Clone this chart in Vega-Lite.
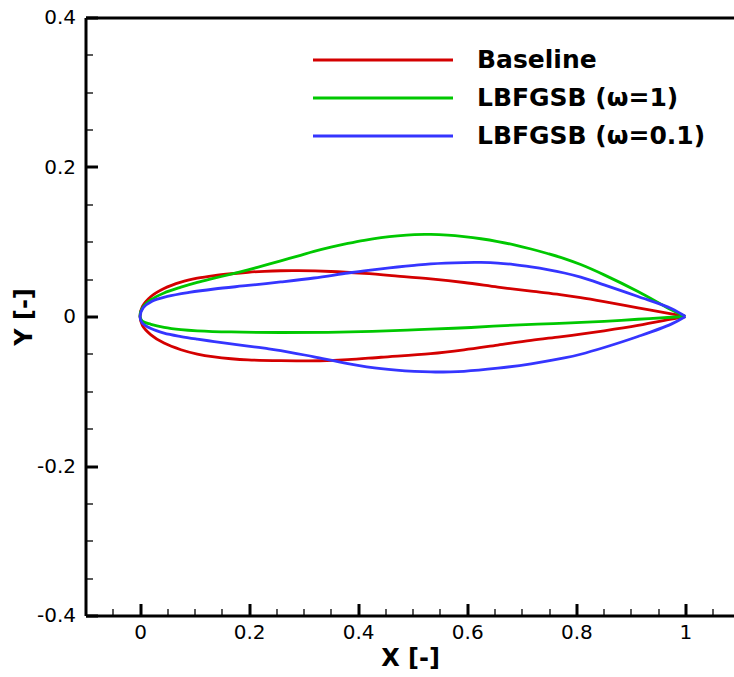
{
"$schema": "https://vega.github.io/schema/vega-lite/v6.json",
"width": 649, "height": 598,
"autosize": {"type": "none"},
"padding": {"left": 85.5, "top": 17.5, "right": 0, "bottom": 62},
"config": {"view": {"stroke": null}, "font": "DejaVu Sans",
  "axis": {"domainColor": "black", "tickColor": "black", "labelColor": "black", "titleColor": "black", "grid": false, "labelFont": "DejaVu Sans", "labelFontSize": 20, "titleFont": "DejaVu Sans", "titleFontSize": 24, "titleFontWeight": "bold", "domainWidth": 3}},
"data": {"values": [
{"s":"Baseline","i":0,"x":1,"y":0},{"s":"Baseline","i":1,"x":0.974,"y":0.0035},{"s":"Baseline","i":2,"x":0.913,"y":0.0117},{"s":"Baseline","i":3,"x":0.851,"y":0.0199},{"s":"Baseline","i":4,"x":0.808,"y":0.0252},{"s":"Baseline","i":5,"x":0.77,"y":0.0292},{"s":"Baseline","i":6,"x":0.717,"y":0.0338},{"s":"Baseline","i":7,"x":0.656,"y":0.0394},{"s":"Baseline","i":8,"x":0.594,"y":0.0455},{"s":"Baseline","i":9,"x":0.533,"y":0.0503},{"s":"Baseline","i":10,"x":0.472,"y":0.0541},{"s":"Baseline","i":11,"x":0.411,"y":0.0576},{"s":"Baseline","i":12,"x":0.35,"y":0.0602},{"s":"Baseline","i":13,"x":0.29,"y":0.0613},{"s":"Baseline","i":14,"x":0.258,"y":0.0612},{"s":"Baseline","i":15,"x":0.228,"y":0.0605},{"s":"Baseline","i":16,"x":0.198,"y":0.0592},{"s":"Baseline","i":17,"x":0.167,"y":0.0572},{"s":"Baseline","i":18,"x":0.136,"y":0.0547},{"s":"Baseline","i":19,"x":0.105,"y":0.0512},{"s":"Baseline","i":20,"x":0.075,"y":0.046},{"s":"Baseline","i":21,"x":0.044,"y":0.0375},{"s":"Baseline","i":22,"x":0.02,"y":0.0268},{"s":"Baseline","i":23,"x":0.0044,"y":0.0134},{"s":"Baseline","i":24,"x":0,"y":0},{"s":"Baseline","i":25,"x":0.0044,"y":-0.012},{"s":"Baseline","i":26,"x":0.02,"y":-0.0245},{"s":"Baseline","i":27,"x":0.044,"y":-0.0356},{"s":"Baseline","i":28,"x":0.075,"y":-0.0445},{"s":"Baseline","i":29,"x":0.105,"y":-0.0503},{"s":"Baseline","i":30,"x":0.136,"y":-0.0541},{"s":"Baseline","i":31,"x":0.167,"y":-0.0565},{"s":"Baseline","i":32,"x":0.198,"y":-0.058},{"s":"Baseline","i":33,"x":0.258,"y":-0.059},{"s":"Baseline","i":34,"x":0.33,"y":-0.0592},{"s":"Baseline","i":35,"x":0.381,"y":-0.0578},{"s":"Baseline","i":36,"x":0.442,"y":-0.0545},{"s":"Baseline","i":37,"x":0.533,"y":-0.0497},{"s":"Baseline","i":38,"x":0.594,"y":-0.0446},{"s":"Baseline","i":39,"x":0.656,"y":-0.0382},{"s":"Baseline","i":40,"x":0.717,"y":-0.0319},{"s":"Baseline","i":41,"x":0.77,"y":-0.0272},{"s":"Baseline","i":42,"x":0.808,"y":-0.0236},{"s":"Baseline","i":43,"x":0.851,"y":-0.0191},{"s":"Baseline","i":44,"x":0.913,"y":-0.0119},{"s":"Baseline","i":45,"x":0.974,"y":-0.0036},{"s":"Baseline","i":46,"x":1,"y":0},
{"s":"LBFGSB (ω=1)","i":0,"x":1,"y":0},{"s":"LBFGSB (ω=1)","i":1,"x":0.974,"y":0.009},{"s":"LBFGSB (ω=1)","i":2,"x":0.913,"y":0.0334},{"s":"LBFGSB (ω=1)","i":3,"x":0.851,"y":0.0557},{"s":"LBFGSB (ω=1)","i":4,"x":0.808,"y":0.0695},{"s":"LBFGSB (ω=1)","i":5,"x":0.778,"y":0.0775},{"s":"LBFGSB (ω=1)","i":6,"x":0.747,"y":0.0843},{"s":"LBFGSB (ω=1)","i":7,"x":0.717,"y":0.0903},{"s":"LBFGSB (ω=1)","i":8,"x":0.686,"y":0.0958},{"s":"LBFGSB (ω=1)","i":9,"x":0.656,"y":0.1003},{"s":"LBFGSB (ω=1)","i":10,"x":0.625,"y":0.104},{"s":"LBFGSB (ω=1)","i":11,"x":0.594,"y":0.1068},{"s":"LBFGSB (ω=1)","i":12,"x":0.564,"y":0.1088},{"s":"LBFGSB (ω=1)","i":13,"x":0.533,"y":0.1098},{"s":"LBFGSB (ω=1)","i":14,"x":0.503,"y":0.1096},{"s":"LBFGSB (ω=1)","i":15,"x":0.472,"y":0.108},{"s":"LBFGSB (ω=1)","i":16,"x":0.442,"y":0.1055},{"s":"LBFGSB (ω=1)","i":17,"x":0.411,"y":0.102},{"s":"LBFGSB (ω=1)","i":18,"x":0.381,"y":0.0978},{"s":"LBFGSB (ω=1)","i":19,"x":0.35,"y":0.0929},{"s":"LBFGSB (ω=1)","i":20,"x":0.319,"y":0.0872},{"s":"LBFGSB (ω=1)","i":21,"x":0.289,"y":0.0808},{"s":"LBFGSB (ω=1)","i":22,"x":0.258,"y":0.0745},{"s":"LBFGSB (ω=1)","i":23,"x":0.228,"y":0.0683},{"s":"LBFGSB (ω=1)","i":24,"x":0.198,"y":0.0625},{"s":"LBFGSB (ω=1)","i":25,"x":0.167,"y":0.0567},{"s":"LBFGSB (ω=1)","i":26,"x":0.136,"y":0.0512},{"s":"LBFGSB (ω=1)","i":27,"x":0.105,"y":0.0456},{"s":"LBFGSB (ω=1)","i":28,"x":0.075,"y":0.0392},{"s":"LBFGSB (ω=1)","i":29,"x":0.044,"y":0.0315},{"s":"LBFGSB (ω=1)","i":30,"x":0.02,"y":0.0224},{"s":"LBFGSB (ω=1)","i":31,"x":0.004,"y":0.011},{"s":"LBFGSB (ω=1)","i":32,"x":0,"y":0},{"s":"LBFGSB (ω=1)","i":33,"x":0.004,"y":-0.0062},{"s":"LBFGSB (ω=1)","i":34,"x":0.02,"y":-0.0105},{"s":"LBFGSB (ω=1)","i":35,"x":0.044,"y":-0.0145},{"s":"LBFGSB (ω=1)","i":36,"x":0.075,"y":-0.0175},{"s":"LBFGSB (ω=1)","i":37,"x":0.105,"y":-0.0191},{"s":"LBFGSB (ω=1)","i":38,"x":0.167,"y":-0.0207},{"s":"LBFGSB (ω=1)","i":39,"x":0.258,"y":-0.0214},{"s":"LBFGSB (ω=1)","i":40,"x":0.344,"y":-0.0212},{"s":"LBFGSB (ω=1)","i":41,"x":0.426,"y":-0.0199},{"s":"LBFGSB (ω=1)","i":42,"x":0.49,"y":-0.0183},{"s":"LBFGSB (ω=1)","i":43,"x":0.533,"y":-0.0169},{"s":"LBFGSB (ω=1)","i":44,"x":0.607,"y":-0.0147},{"s":"LBFGSB (ω=1)","i":45,"x":0.668,"y":-0.0122},{"s":"LBFGSB (ω=1)","i":46,"x":0.729,"y":-0.0102},{"s":"LBFGSB (ω=1)","i":47,"x":0.79,"y":-0.0086},{"s":"LBFGSB (ω=1)","i":48,"x":0.851,"y":-0.0065},{"s":"LBFGSB (ω=1)","i":49,"x":0.913,"y":-0.0037},{"s":"LBFGSB (ω=1)","i":50,"x":0.974,"y":-0.001},{"s":"LBFGSB (ω=1)","i":51,"x":1,"y":0},
{"s":"LBFGSB (ω=0.1)","i":0,"x":1,"y":0},{"s":"LBFGSB (ω=0.1)","i":1,"x":0.974,"y":0.0107},{"s":"LBFGSB (ω=0.1)","i":2,"x":0.913,"y":0.0268},{"s":"LBFGSB (ω=0.1)","i":3,"x":0.851,"y":0.0424},{"s":"LBFGSB (ω=0.1)","i":4,"x":0.808,"y":0.0527},{"s":"LBFGSB (ω=0.1)","i":5,"x":0.778,"y":0.0582},{"s":"LBFGSB (ω=0.1)","i":6,"x":0.747,"y":0.0627},{"s":"LBFGSB (ω=0.1)","i":7,"x":0.717,"y":0.0663},{"s":"LBFGSB (ω=0.1)","i":8,"x":0.686,"y":0.0694},{"s":"LBFGSB (ω=0.1)","i":9,"x":0.656,"y":0.0715},{"s":"LBFGSB (ω=0.1)","i":10,"x":0.625,"y":0.0723},{"s":"LBFGSB (ω=0.1)","i":11,"x":0.594,"y":0.0722},{"s":"LBFGSB (ω=0.1)","i":12,"x":0.533,"y":0.0705},{"s":"LBFGSB (ω=0.1)","i":13,"x":0.503,"y":0.0685},{"s":"LBFGSB (ω=0.1)","i":14,"x":0.472,"y":0.0662},{"s":"LBFGSB (ω=0.1)","i":15,"x":0.442,"y":0.0638},{"s":"LBFGSB (ω=0.1)","i":16,"x":0.411,"y":0.0611},{"s":"LBFGSB (ω=0.1)","i":17,"x":0.381,"y":0.0582},{"s":"LBFGSB (ω=0.1)","i":18,"x":0.319,"y":0.0515},{"s":"LBFGSB (ω=0.1)","i":19,"x":0.258,"y":0.0462},{"s":"LBFGSB (ω=0.1)","i":20,"x":0.198,"y":0.0415},{"s":"LBFGSB (ω=0.1)","i":21,"x":0.136,"y":0.0368},{"s":"LBFGSB (ω=0.1)","i":22,"x":0.09,"y":0.0322},{"s":"LBFGSB (ω=0.1)","i":23,"x":0.05,"y":0.0268},{"s":"LBFGSB (ω=0.1)","i":24,"x":0.022,"y":0.0205},{"s":"LBFGSB (ω=0.1)","i":25,"x":0.006,"y":0.0118},{"s":"LBFGSB (ω=0.1)","i":26,"x":0,"y":0},{"s":"LBFGSB (ω=0.1)","i":27,"x":0.004,"y":-0.0085},{"s":"LBFGSB (ω=0.1)","i":28,"x":0.02,"y":-0.0162},{"s":"LBFGSB (ω=0.1)","i":29,"x":0.044,"y":-0.0222},{"s":"LBFGSB (ω=0.1)","i":30,"x":0.075,"y":-0.0268},{"s":"LBFGSB (ω=0.1)","i":31,"x":0.105,"y":-0.0303},{"s":"LBFGSB (ω=0.1)","i":32,"x":0.136,"y":-0.0335},{"s":"LBFGSB (ω=0.1)","i":33,"x":0.167,"y":-0.0366},{"s":"LBFGSB (ω=0.1)","i":34,"x":0.198,"y":-0.0395},{"s":"LBFGSB (ω=0.1)","i":35,"x":0.228,"y":-0.0424},{"s":"LBFGSB (ω=0.1)","i":36,"x":0.258,"y":-0.0455},{"s":"LBFGSB (ω=0.1)","i":37,"x":0.319,"y":-0.054},{"s":"LBFGSB (ω=0.1)","i":38,"x":0.381,"y":-0.0629},{"s":"LBFGSB (ω=0.1)","i":39,"x":0.442,"y":-0.0698},{"s":"LBFGSB (ω=0.1)","i":40,"x":0.503,"y":-0.0735},{"s":"LBFGSB (ω=0.1)","i":41,"x":0.533,"y":-0.0742},{"s":"LBFGSB (ω=0.1)","i":42,"x":0.594,"y":-0.0733},{"s":"LBFGSB (ω=0.1)","i":43,"x":0.656,"y":-0.0692},{"s":"LBFGSB (ω=0.1)","i":44,"x":0.717,"y":-0.0633},{"s":"LBFGSB (ω=0.1)","i":45,"x":0.778,"y":-0.0555},{"s":"LBFGSB (ω=0.1)","i":46,"x":0.808,"y":-0.0505},{"s":"LBFGSB (ω=0.1)","i":47,"x":0.851,"y":-0.0415},{"s":"LBFGSB (ω=0.1)","i":48,"x":0.913,"y":-0.0268},{"s":"LBFGSB (ω=0.1)","i":49,"x":0.974,"y":-0.0102},{"s":"LBFGSB (ω=0.1)","i":50,"x":1,"y":0}
]},
"layer": [
 {"mark": {"type": "line", "opacity": 0},
  "encoding": {
   "x": {"field": "x", "type": "quantitative", "scale": {"domain": [-0.1, 1.09], "nice": false, "zero": false},
     "axis": {"orient": "bottom", "values": [-0.05,0.05,0.1,0.15,0.25,0.3,0.35,0.45,0.5,0.55,0.65,0.7,0.75,0.85,0.9,0.95,1.05], "tickSize": -7, "tickWidth": 1.3, "labels": false, "domain": false, "title": null}},
   "y": {"field": "y", "type": "quantitative", "scale": {"domain": [-0.4, 0.4], "nice": false, "zero": false},
     "axis": {"orient": "left", "values": [-0.35,-0.3,-0.25,-0.15,-0.1,-0.05,0.05,0.1,0.15,0.25,0.3,0.35], "tickSize": -7, "tickWidth": 1.3, "labels": false, "domain": false, "title": null}},
   "detail": {"field": "s", "type": "nominal"},
   "order": {"field": "i", "type": "quantitative"}
  }},
 {"mark": {"type": "line", "opacity": 0},
  "encoding": {
   "x": {"field": "x", "type": "quantitative",
     "axis": {"orient": "top", "ticks": false, "labels": false, "domain": true, "title": null}},
   "y": {"field": "y", "type": "quantitative", "axis": null},
   "detail": {"field": "s", "type": "nominal"},
   "order": {"field": "i", "type": "quantitative"}
  }},
 {"mark": {"type": "line", "strokeWidth": 2.8, "interpolate": "catmull-rom"},
  "encoding": {
   "x": {"field": "x", "type": "quantitative",
     "axis": {"orient": "bottom", "values": [0,0.2,0.4,0.6,0.8,1], "tickSize": -12, "tickWidth": 3, "labelPadding": 19, "labelExpr": "'' + datum.value", "title": "X [-]", "titlePadding": 4}},
   "y": {"field": "y", "type": "quantitative",
     "axis": {"orient": "left", "values": [-0.4,-0.2,0,0.2,0.4], "tickSize": -12, "tickWidth": 3, "labelPadding": 22, "labelExpr": "'' + datum.value", "title": "Y [-]", "titlePadding": 0}},
   "color": {"field": "s", "type": "nominal",
     "scale": {"domain": ["Baseline", "LBFGSB (ω=1)", "LBFGSB (ω=0.1)"], "range": ["#d40000", "#00c800", "#3535ff"]},
     "legend": {"title": null, "orient": "none", "legendX": 285, "legendY": 30, "symbolType": "M-7,0H7", "symbolSize": 400, "symbolStrokeWidth": 3, "labelFontSize": 25, "labelFontWeight": "bold", "labelFont": "DejaVu Sans", "labelColor": "black", "labelOffset": 81.5, "labelLimit": 500, "rowPadding": 12, "padding": 0}},
   "order": {"field": "i", "type": "quantitative"}
  }}
],
"resolve": {"axis": {"x": "independent", "y": "independent"}}
}
